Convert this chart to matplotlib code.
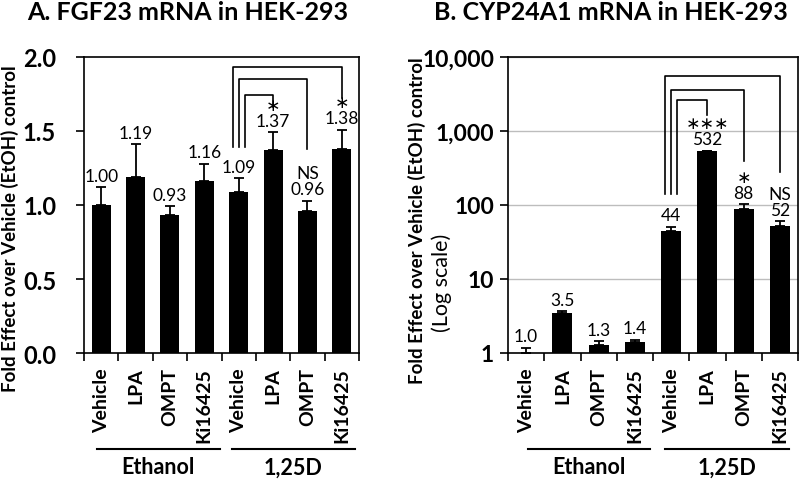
import numpy as np
import matplotlib
matplotlib.use("Agg")
import matplotlib.pyplot as plt

plt.rcParams['font.family'] = ['Lato', 'DejaVu Sans']

# datos
tratamientos = ['Vehicle', 'LPA', 'OMPT', 'Ki16425', 'Vehicle', 'LPA', 'OMPT', 'Ki16425']
grupos = ['Ethanol', '1,25D']

fgf23 = [1.00, 1.19, 0.93, 1.16, 1.09, 1.37, 0.96, 1.38]
fgf23_err = [0.12, 0.22, 0.06, 0.12, 0.09, 0.12, 0.07, 0.13]
fgf23_sig = ['', '', '', '', '', '*', 'NS', '*']

cyp24 = [1.0, 3.5, 1.3, 1.4, 44, 532, 88, 52]
cyp24_err = [0.17, 0.15, 0.15, 0.12, 7, 10, 15, 8]
cyp24_sig = ['', '', '', '', '', '***', '*', 'NS']

# corchetes: (desplazamiento izq, barra dcha, altura, base izq, base dcha)
corchetes_a = [(-0.17, 7, 1.93, 1.39, 1.72), (0.0, 6, 1.85, 1.39, 1.38), (0.17, 5, 1.74, 1.39, 1.66)]
corchetes_b = [(-0.16, 7, 5525, 143, 276), (0.0, 6, 3570, 143, 389), (0.17, 5, 2610, 143, 1636)]

fig = plt.figure(figsize=(8, 4.81), dpi=100)
axA = fig.add_axes([84/800, 1 - 354/481, 275/800, 296/481])
axB = fig.add_axes([508/800, 1 - 354/481, 290/800, 296/481])

x = np.arange(len(tratamientos))


def panel(ax, vals, errs, sigs, fmt, corchetes, lineas_grupo):
    ax.bar(x, vals, width=0.55, color='black', zorder=3)
    ax.errorbar(x, vals, yerr=[np.zeros(len(vals)), errs], fmt='none', ecolor='black',
                elinewidth=1.3, capsize=3.5, capthick=1.3, zorder=3)
    ax.set_xlim(-0.5, 7.5)
    ax.set_xticks(x)
    ax.set_xticklabels(tratamientos, rotation=90, fontsize=14, fontweight='bold')
    ax.tick_params(axis='x', length=0, pad=10)
    ax.set_xticks(np.arange(-0.5, 8, 1), minor=True)
    ax.tick_params(axis='x', which='minor', length=6, width=1.2, direction='out')
    for s in ax.spines.values():
        s.set_linewidth(1.2)
    for i, (v, e, s) in enumerate(zip(vals, errs, sigs)):
        # asterisco centrado (U+2217) para que se vea como en el original
        s = s.replace('*', '\u2217')
        txt = fmt(v) if not s else s + '\n' + fmt(v)
        ax.annotate(txt, (i, v + e), xytext=(0, 2.5), textcoords='offset points',
                    ha='center', va='bottom', fontsize=12.5, linespacing=1.0)
    for dx, xr, top, yl, yr in corchetes:
        ax.plot([4 + dx, 4 + dx, xr, xr], [yl, top, top, yr], color='black', lw=1.2, zorder=4)
    trans = ax.get_xaxis_transform()
    for (x0, x1), g in zip(lineas_grupo, grupos):
        ax.plot([x0, x1], [-0.324, -0.324], color='black', lw=1.5, transform=trans, clip_on=False)
        ax.text((x0 + x1) / 2, -0.385, g, transform=trans, ha='center', va='center',
                fontsize=15.5, fontweight='bold')


panel(axA, fgf23, fgf23_err, fgf23_sig, lambda v: '{:.2f}'.format(v), corchetes_a,
      [(-0.12, 3.45), (3.8, 7.38)])
axA.set_ylim(0, 2.0)
axA.set_yticks([0, 0.5, 1.0, 1.5, 2.0])
axA.set_yticklabels(['0.0', '0.5', '1.0', '1.5', '2.0'], fontsize=17, fontweight='bold')
axA.tick_params(axis='y', length=6, width=1.2, pad=14)

panel(axB, cyp24, cyp24_err, cyp24_sig,
      lambda v: '{:.1f}'.format(v) if v < 10 else '{:.0f}'.format(v), corchetes_b,
      [(0.05, 3.43), (3.84, 7.25)])
axB.set_yscale('log')
axB.set_ylim(1, 10000)
axB.set_yticks([1, 10, 100, 1000, 10000])
axB.set_yticklabels(['1', '10', '100', '1,000', '10,000'], fontsize=16.5, fontweight='bold')
axB.yaxis.set_minor_locator(matplotlib.ticker.NullLocator())
axB.tick_params(axis='y', length=6, width=1.2, pad=4)
axB.grid(axis='y', color='#bdbdbd', lw=1, zorder=0)

fig.text(10/800, 1 - 229/481, 'Fold Effect over Vehicle (EtOH) control', rotation=90,
         ha='center', va='center', fontsize=13.5, fontweight='bold')
fig.text(417/800, 1 - 221/481, 'Fold Effect over Vehicle (EtOH) control', rotation=90,
         ha='center', va='center', fontsize=13.5, fontweight='bold')
fig.text(442/800, 1 - 283/481, '(Log scale)', rotation=90, ha='center', va='center', fontsize=15.5)

fig.text(188/800, 1 - 13/481, 'A. FGF23 mRNA in HEK-293', ha='center', va='center',
         fontsize=18, fontweight='bold')
fig.text(611/800, 1 - 13/481, 'B. CYP24A1 mRNA in HEK-293', ha='center', va='center',
         fontsize=18, fontweight='bold')

fig.savefig('out.png', dpi=100)
